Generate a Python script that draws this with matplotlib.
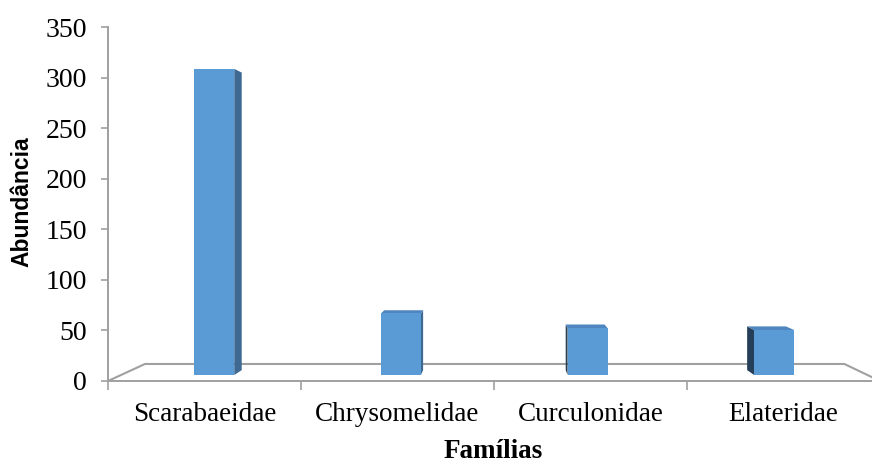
import matplotlib
matplotlib.use("Agg")
import matplotlib.pyplot as plt
from matplotlib.patches import Polygon

families = ["Scarabaeidae", "Chrysomelidae", "Curculonidae", "Elateridae"]
abundance = [313, 63, 48, 46]
y_ticks = [0, 50, 100, 150, 200, 250, 300, 350]

# perspective set-up (data units of the front plane)
VP_X, VP_Y = 2.036, 179.0      # vanishing point
FLOOR_DEPTH = 0.094
BAR_FRONT, BAR_BACK = 0.033, 0.060
BAR_HALF = 0.107

FRONT = "#5b9bd5"
SIDE_R = "#3d6992"
SIDE_L = "#263f58"
TOP = "#4f86bf"
GRID = "#a0a0a0"

plt.rcParams["font.family"] = ["Liberation Serif", "DejaVu Serif"]


def proj(x, y, d):
    return (x + (VP_X - x) * d, y + (VP_Y - y) * d)


fig = plt.figure(figsize=(8.72, 4.62), dpi=100)
ax = fig.add_axes([108 / 872, 81 / 462, 772 / 872, 354 / 462])
ax.set_xlim(0, len(families))
ax.set_ylim(0, 350)

for side in ("top", "right"):
    ax.spines[side].set_visible(False)
for side in ("left", "bottom"):
    ax.spines[side].set_color(GRID)
    ax.spines[side].set_linewidth(1.4)
    ax.spines[side].set_clip_on(False)

ax.set_yticks(y_ticks)
ax.set_yticklabels([str(t) for t in y_ticks])
ax.tick_params(axis="y", direction="out", length=5, width=1.2, color=GRID,
               labelsize=20, pad=10)

ax.set_xticks(range(len(families) + 1))
ax.set_xticklabels([])
ax.set_xticks([i + 0.5 for i in range(len(families))], minor=True)
ax.set_xticklabels(families, minor=True)
ax.tick_params(axis="x", which="major", direction="out", length=6.5, width=1.2,
               color=GRID)
ax.tick_params(axis="x", which="minor", length=0, labelsize=19.5, pad=15)

# floor outline (front edge is the bottom spine)
n = len(families)
floor = [proj(0, 0, 0), proj(0, 0, FLOOR_DEPTH), proj(n, 0, FLOOR_DEPTH), proj(n, 0, 0)]
ax.plot([p[0] for p in floor], [p[1] for p in floor], color=GRID, lw=1.5,
        clip_on=False, zorder=1)

# 3-D columns
for i, v in enumerate(abundance):
    c = i + 0.5
    x0, x1 = c - BAR_HALF, c + BAR_HALF
    if x1 < VP_X:
        side = [proj(x1, 0, BAR_FRONT), proj(x1, 0, BAR_BACK),
                proj(x1, v, BAR_BACK), proj(x1, v, BAR_FRONT)]
        ax.add_patch(Polygon(side, closed=True, fc=SIDE_R, ec="none", zorder=3))
    if x0 > VP_X:
        side = [proj(x0, 0, BAR_FRONT), proj(x0, 0, BAR_BACK),
                proj(x0, v, BAR_BACK), proj(x0, v, BAR_FRONT)]
        ax.add_patch(Polygon(side, closed=True, fc=SIDE_L, ec="none", zorder=3))
    if v < VP_Y:
        top = [proj(x0, v, BAR_FRONT), proj(x1, v, BAR_FRONT),
               proj(x1, v, BAR_BACK), proj(x0, v, BAR_BACK)]
        ax.add_patch(Polygon(top, closed=True, fc=TOP, ec="none", zorder=3))
    front = [proj(x0, 0, BAR_FRONT), proj(x1, 0, BAR_FRONT),
             proj(x1, v, BAR_FRONT), proj(x0, v, BAR_FRONT)]
    ax.add_patch(Polygon(front, closed=True, fc=FRONT, ec="none", zorder=4))

fig.text(22 / 872, 1 - 202 / 462, "Abundância", rotation=90, ha="center",
         va="center", fontsize=16.5, fontweight="bold", family="Liberation Sans")
fig.text(493 / 872, 1 - 451 / 462, "Famílias", ha="center", va="center",
         fontsize=19.5, fontweight="bold")

fig.savefig("out.png", dpi=100)
